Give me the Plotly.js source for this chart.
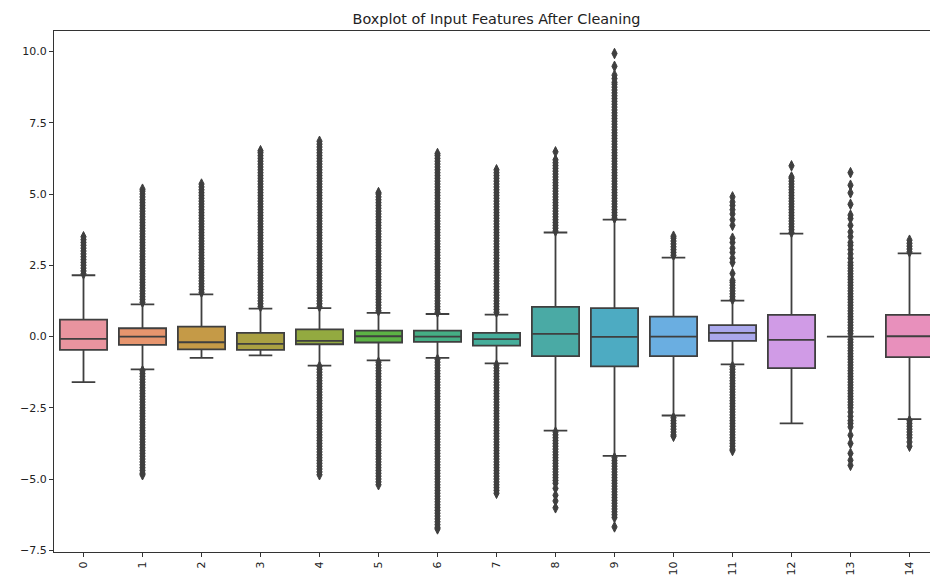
<!DOCTYPE html>
<html>
<head>
<meta charset="utf-8">
<script src="https://cdn.plot.ly/plotly-3.0.1.min.js"></script>
<style>
html, body { margin: 0; padding: 0; overflow: hidden; background: #fff; }
#chart { width: 944px; height: 579px; }
</style>
</head>
<body>
<div id="chart"></div>
<script>
const categories = ['0','1','2','3','4','5','6','7','8','9','10','11','12','13','14'];
const q1 =         [-0.47,-0.29,-0.45,-0.47,-0.27,-0.21,-0.19,-0.32,-0.69,-1.05,-0.69,-0.15,-1.11,0,-0.72];
const medians =    [-0.08, 0.00,-0.20,-0.26,-0.15, 0.01, 0.00,-0.09, 0.09,-0.01, 0.00, 0.13,-0.12,0, 0.01];
const q3 =         [ 0.59, 0.29, 0.35, 0.13, 0.25, 0.21, 0.21, 0.13, 1.04, 1.00, 0.70, 0.40, 0.76,0, 0.76];
const lowerFence = [-1.60,-1.15,-0.75,-0.66,-1.02,-0.84,-0.75,-0.94,-3.30,-4.19,-2.77,-0.98,-3.05,0,-2.90];
const upperFence = [ 2.15, 1.13, 1.48, 0.98, 1.00, 0.83, 0.79, 0.77, 3.65, 4.10, 2.77, 1.26, 3.61,0, 2.92];

const outliers0 = [2.2,2.3,2.4,2.5,2.6,2.7,2.8,2.9,3.0,3.1,3.2,3.3,3.4,3.5];
const outliers1 = [1.2,1.3,1.4,1.5,1.6,1.7,1.8,1.9,2.0,2.1,2.2,2.3,2.4,2.5,2.6,2.7,2.8,2.9,3.0,3.1,3.2,3.3,3.4,3.5,3.6,3.7,3.8,3.9,4.0,4.1,4.2,4.3,4.4,4.5,4.6,4.7,4.8,4.9,5.0,5.1,5.17,
  -1.2,-1.3,-1.4,-1.5,-1.6,-1.7,-1.8,-1.9,-2.0,-2.1,-2.2,-2.3,-2.4,-2.5,-2.6,-2.7,-2.8,-2.9,-3.0,-3.1,-3.2,-3.3,-3.4,-3.5,-3.6,-3.7,-3.8,-3.9,-4.0,-4.1,-4.2,-4.3,-4.4,-4.5,-4.6,-4.7,-4.8,-4.85];
const outliers2 = [1.55,1.65,1.75,1.85,1.95,2.05,2.15,2.25,2.35,2.45,2.55,2.65,2.75,2.85,2.95,3.05,3.15,3.25,3.35,3.45,3.55,3.65,3.75,3.85,3.95,4.05,4.15,4.25,4.35,4.45,4.55,4.65,4.75,4.85,4.95,5.05,5.15,5.25,5.35];
const outliers3 = [1.05,1.15,1.25,1.35,1.45,1.55,1.65,1.75,1.85,1.95,2.05,2.15,2.25,2.35,2.45,2.55,2.65,2.75,2.85,2.95,3.05,3.15,3.25,3.35,3.45,3.55,3.65,3.75,3.85,3.95,4.05,4.15,4.25,4.35,4.45,4.55,4.65,4.75,4.85,4.95,5.05,5.15,5.25,5.35,5.45,5.55,5.65,5.75,5.85,5.95,6.05,6.15,6.25,6.35,6.45,6.52];
const outliers4 = [1.05,1.15,1.25,1.35,1.45,1.55,1.65,1.75,1.85,1.95,2.05,2.15,2.25,2.35,2.45,2.55,2.65,2.75,2.85,2.95,3.05,3.15,3.25,3.35,3.45,3.55,3.65,3.75,3.85,3.95,4.05,4.15,4.25,4.35,4.45,4.55,4.65,4.75,4.85,4.95,5.05,5.15,5.25,5.35,5.45,5.55,5.65,5.75,5.85,5.95,6.05,6.15,6.25,6.35,6.45,6.55,6.65,6.75,6.85,
  -1.05,-1.15,-1.25,-1.35,-1.45,-1.55,-1.65,-1.75,-1.85,-1.95,-2.05,-2.15,-2.25,-2.35,-2.45,-2.55,-2.65,-2.75,-2.85,-2.95,-3.05,-3.15,-3.25,-3.35,-3.45,-3.55,-3.65,-3.75,-3.85,-3.95,-4.05,-4.15,-4.25,-4.35,-4.45,-4.55,-4.65,-4.75,-4.85];
const outliers5 = [0.9,1.0,1.1,1.2,1.3,1.4,1.5,1.6,1.7,1.8,1.9,2.0,2.1,2.2,2.3,2.4,2.5,2.6,2.7,2.8,2.9,3.0,3.1,3.2,3.3,3.4,3.5,3.6,3.7,3.8,3.9,4.0,4.1,4.2,4.3,4.4,4.5,4.6,4.7,4.8,4.9,5.0,5.05,
  -0.9,-1.0,-1.1,-1.2,-1.3,-1.4,-1.5,-1.6,-1.7,-1.8,-1.9,-2.0,-2.1,-2.2,-2.3,-2.4,-2.5,-2.6,-2.7,-2.8,-2.9,-3.0,-3.1,-3.2,-3.3,-3.4,-3.5,-3.6,-3.7,-3.8,-3.9,-4.0,-4.1,-4.2,-4.3,-4.4,-4.5,-4.6,-4.7,-4.8,-4.9,-5.0,-5.1,-5.2];
const outliers6 = [0.85,0.95,1.05,1.15,1.25,1.35,1.45,1.55,1.65,1.75,1.85,1.95,2.05,2.15,2.25,2.35,2.45,2.55,2.65,2.75,2.85,2.95,3.05,3.15,3.25,3.35,3.45,3.55,3.65,3.75,3.85,3.95,4.05,4.15,4.25,4.35,4.45,4.55,4.65,4.75,4.85,4.95,5.05,5.15,5.25,5.35,5.45,5.55,5.65,5.75,5.85,5.95,6.05,6.15,6.25,6.35,6.42,
  -0.8,-0.9,-1.0,-1.1,-1.2,-1.3,-1.4,-1.5,-1.6,-1.7,-1.8,-1.9,-2.0,-2.1,-2.2,-2.3,-2.4,-2.5,-2.6,-2.7,-2.8,-2.9,-3.0,-3.1,-3.2,-3.3,-3.4,-3.5,-3.6,-3.7,-3.8,-3.9,-4.0,-4.1,-4.2,-4.3,-4.4,-4.5,-4.6,-4.7,-4.8,-4.9,-5.0,-5.1,-5.2,-5.3,-5.4,-5.5,-5.6,-5.7,-5.8,-5.9,-6.0,-6.1,-6.2,-6.3,-6.4,-6.5,-6.6,-6.7,-6.75];
const outliers7 = [0.85,0.95,1.05,1.15,1.25,1.35,1.45,1.55,1.65,1.75,1.85,1.95,2.05,2.15,2.25,2.35,2.45,2.55,2.65,2.75,2.85,2.95,3.05,3.15,3.25,3.35,3.45,3.55,3.65,3.75,3.85,3.95,4.05,4.15,4.25,4.35,4.45,4.55,4.65,4.75,4.85,4.95,5.05,5.15,5.25,5.35,5.45,5.55,5.65,5.75,5.85,
  -1.0,-1.1,-1.2,-1.3,-1.4,-1.5,-1.6,-1.7,-1.8,-1.9,-2.0,-2.1,-2.2,-2.3,-2.4,-2.5,-2.6,-2.7,-2.8,-2.9,-3.0,-3.1,-3.2,-3.3,-3.4,-3.5,-3.6,-3.7,-3.8,-3.9,-4.0,-4.1,-4.2,-4.3,-4.4,-4.5,-4.6,-4.7,-4.8,-4.9,-5.0,-5.1,-5.2,-5.3,-5.4,-5.5];
const outliers8 = [3.7,3.8,3.9,4.0,4.1,4.2,4.3,4.4,4.5,4.6,4.7,4.8,4.9,5.0,5.1,5.2,5.3,5.4,5.5,5.6,5.7,5.8,5.9,6.0,6.1,6.2,6.48,
  -3.35,-3.45,-3.55,-3.65,-3.75,-3.85,-3.95,-4.05,-4.15,-4.25,-4.35,-4.45,-4.55,-4.65,-4.75,-4.85,-4.95,-5.05,-5.15,-5.33,-5.57,-5.77,-6.01];
const outliers9 = [4.15,4.25,4.35,4.45,4.55,4.65,4.75,4.85,4.95,5.05,5.15,5.25,5.35,5.45,5.55,5.65,5.75,5.85,5.95,6.05,6.15,6.25,6.35,6.45,6.55,6.65,6.75,6.85,6.95,7.05,7.15,7.25,7.35,7.45,7.55,7.65,7.75,7.85,7.95,8.05,8.15,8.25,8.35,8.45,8.55,8.65,8.75,8.85,8.92,9.05,9.17,9.48,9.93,
  -4.25,-4.35,-4.45,-4.55,-4.65,-4.75,-4.85,-4.95,-5.05,-5.15,-5.25,-5.35,-5.45,-5.55,-5.65,-5.75,-5.85,-5.95,-6.05,-6.15,-6.25,-6.35,-6.68];
const outliers10 = [2.85,2.95,3.05,3.15,3.25,3.35,3.45,3.52,-2.85,-2.95,-3.05,-3.15,-3.25,-3.35,-3.45,-3.5];
const outliers11 = [1.3,1.4,1.5,1.6,1.7,1.8,1.9,1.97,2.21,2.6,2.75,2.95,3.1,3.3,3.45,3.9,4.1,4.3,4.45,4.6,4.72,4.9,
  -1.05,-1.15,-1.25,-1.35,-1.45,-1.55,-1.65,-1.75,-1.85,-1.95,-2.05,-2.15,-2.25,-2.35,-2.45,-2.55,-2.65,-2.75,-2.85,-2.95,-3.05,-3.15,-3.25,-3.35,-3.45,-3.55,-3.65,-3.75,-3.85,-3.95,-4.0];
const outliers12 = [3.65,3.75,3.85,3.95,4.05,4.15,4.25,4.35,4.45,4.55,4.65,4.75,4.85,4.95,5.05,5.15,5.25,5.35,5.45,5.55,5.6,5.99];
const outliers13 = [5.75,5.31,5.04,4.64,4.26,4.14,3.9,3.67,3.5,3.3,3.2,3.05,2.9,2.75,2.6,2.5,2.4,2.3,2.2,2.1,2.0,1.9,1.8,1.7,1.6,1.5,1.4,1.3,1.2,1.1,1.0,0.9,0.8,0.7,0.6,0.5,0.4,0.3,0.2,0.1,
  -0.1,-0.2,-0.3,-0.4,-0.5,-0.6,-0.7,-0.8,-0.9,-1.0,-1.1,-1.2,-1.3,-1.4,-1.5,-1.6,-1.7,-1.8,-1.9,-2.0,-2.1,-2.2,-2.3,-2.4,-2.5,-2.65,-2.8,-2.95,-3.05,-3.17,-3.46,-3.75,-4.1,-4.34,-4.52];
const outliers14 = [2.97,3.07,3.17,3.27,3.38,-2.95,-3.05,-3.15,-3.25,-3.35,-3.45,-3.55,-3.7,-3.85];

const boxColors = ['#e9949f','#e7956e','#c59a47','#a9a042','#93aa40','#5cb345','#45ae85','#46ae9b',
                   '#4aaaa5','#4dabc2','#6aaee1','#aaa8ec','#d09be6','#e095d4','#e890bc'];

const allOutliers = [outliers0,outliers1,outliers2,outliers3,outliers4,outliers5,outliers6,outliers7,
                     outliers8,outliers9,outliers10,outliers11,outliers12,outliers13,outliers14];

const edge = '#3f3f3f';
const traces = [];
categories.forEach((c, i) => {
  traces.push({
    type: 'box',
    x: [i],
    q1: [q1[i]], median: [medians[i]], q3: [q3[i]],
    lowerfence: [lowerFence[i]], upperfence: [upperFence[i]],
    width: 0.8,
    whiskerwidth: 0.5,
    fillcolor: boxColors[i],
    line: {color: edge, width: 1.8},
    boxpoints: false,
    hoverinfo: 'skip',
    showlegend: false
  });
});
allOutliers.forEach((vals, i) => {
  traces.push({
    type: 'scatter',
    mode: 'markers',
    x: vals.map(() => i),
    y: vals,
    marker: {symbol: 'diamond-tall', size: 7.5, color: edge, line: {color: edge, width: 1}},
    hoverinfo: 'skip',
    showlegend: false,
    cliponaxis: true
  });
});

const layout = {
  width: 944, height: 579,
  margin: {l: 54, r: 5, t: 31, b: 27},
  paper_bgcolor: '#fff', plot_bgcolor: '#fff',
  font: {family: 'DejaVu Sans, sans-serif', size: 11, color: '#222'},
  title: {text: 'Boxplot of Input Features After Cleaning', x: 0.5, xref: 'paper', xanchor: 'center',
          y: 1, yref: 'paper', yanchor: 'bottom', pad: {b: 7}, font: {size: 14.4, color: '#222'}},
  xaxis: {
    range: [-0.5, 14.5], tickmode: 'array', tickvals: categories.map((c, i) => i), ticktext: categories,
    tickangle: -90, ticks: 'outside', ticklen: 4, tickcolor: '#333', showline: true, linecolor: '#333', linewidth: 1,
    mirror: true, showgrid: false, zeroline: false, automargin: false
  },
  yaxis: {
    range: [-7.56, 10.72], tickmode: 'array', tickvals: [-7.5,-5,-2.5,0,2.5,5,7.5,10],
    ticktext: ['\u22127.5','\u22125.0','\u22122.5','0.0','2.5','5.0','7.5','10.0'],
    ticks: 'outside', ticklen: 4, tickcolor: '#333', showline: true, linecolor: '#333', linewidth: 1,
    mirror: true, showgrid: false, zeroline: false, automargin: false
  },
  boxmode: 'overlay'
};

Plotly.newPlot('chart', traces, layout, {staticPlot: true, displayModeBar: false});
</script>
</body>
</html>
